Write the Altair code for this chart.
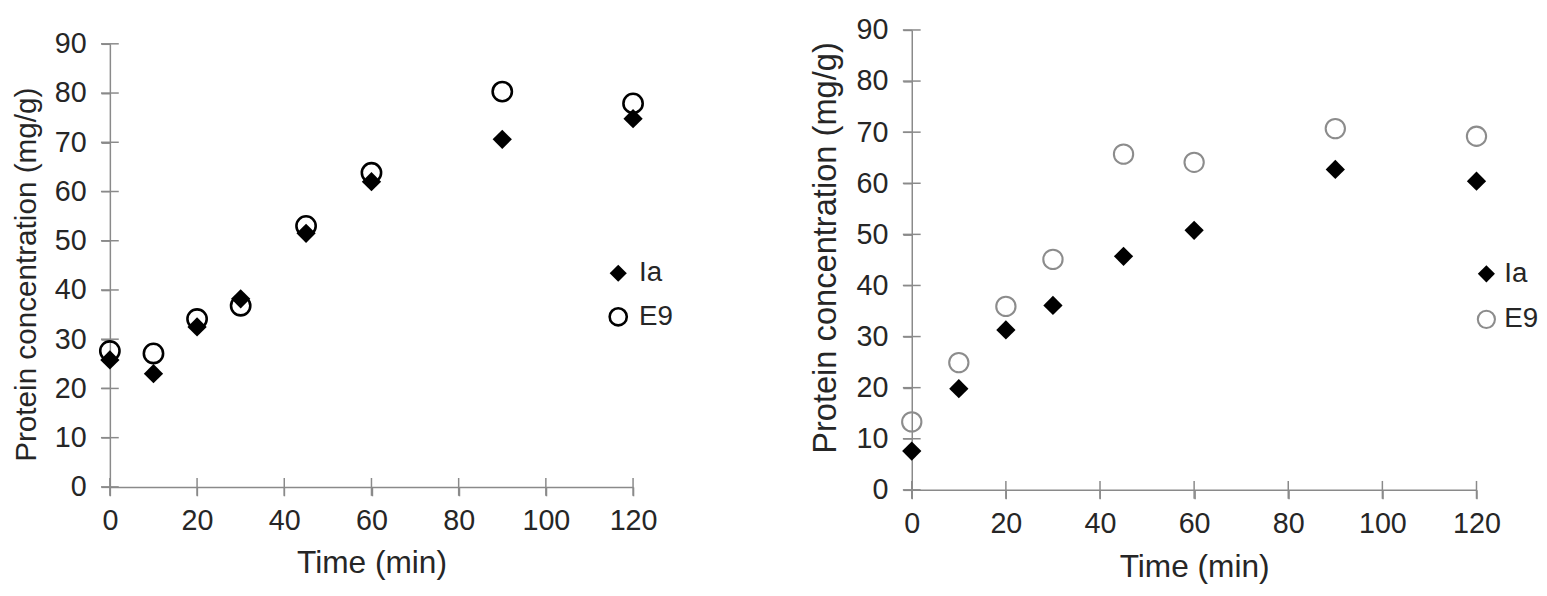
import altair as alt
import pandas as pd

times = [0, 10, 20, 30, 45, 60, 90, 120]
series_names = ["Ia", "E9"]

left_ia = [25.8, 23.0, 32.5, 38.2, 51.5, 62.0, 70.6, 74.8]
left_e9 = [27.6, 27.1, 34.1, 36.8, 53.0, 63.8, 80.3, 77.9]
right_ia = [7.6, 19.8, 31.3, 36.1, 45.7, 50.8, 62.7, 60.4]
right_e9 = [13.3, 24.9, 35.9, 45.1, 65.7, 64.1, 70.7, 69.2]

x_ticks = [0, 20, 40, 60, 80, 100, 120]
y_ticks = [0, 10, 20, 30, 40, 50, 60, 70, 80, 90]

x_title = "Time (min)"
y_title = "Protein concentration (mg/g)"

FONT = "Liberation Sans"
AXIS_GRAY = "#8a8a8a"
TEXT = "#262626"


def panel(ia, e9, e9_color, e9_width, width, height, top_inset, leg_x, leg_y, row_pad,
          label_off, xt_pad, yt_size, yt_pos):
    df = pd.DataFrame({
        "Time": times + times,
        "Conc": e9 + ia,
        "Series": ["E9"] * len(times) + ["Ia"] * len(times),
    })
    xs = alt.Scale(domain=[0, 120], nice=False, zero=False)
    ys = alt.Scale(domain=[0, 90], nice=False, range=[height, top_inset])
    xax = alt.Axis(values=x_ticks, title=x_title, labelPadding=11, titlePadding=xt_pad,
                   labelFlush=False, titleFontSize=32)
    yax = alt.Axis(values=y_ticks, title=y_title, labelPadding=15, titlePadding=13.4,
                   labelFlush=False, titleFontSize=yt_size, titleY=yt_pos)
    leg = alt.Legend(
        title=None, orient="none", legendX=leg_x, legendY=leg_y,
        labelFont=FONT, labelFontSize=28, labelColor=TEXT,
        symbolSize=300, symbolStrokeWidth=e9_width, rowPadding=row_pad,
        labelOffset=label_off, padding=0,
    )
    pts = alt.Chart(df).mark_point(filled=True, size=380, strokeWidth=e9_width, opacity=1).encode(
        x=alt.X("Time:Q", scale=xs, axis=xax, title=x_title),
        y=alt.Y("Conc:Q", scale=ys, axis=yax, title=y_title),
        shape=alt.Shape("Series:N", scale=alt.Scale(domain=series_names, range=["diamond", "circle"]), legend=leg),
        fill=alt.Fill("Series:N", scale=alt.Scale(domain=series_names, range=["black", "transparent"]), legend=leg),
        stroke=alt.Stroke("Series:N", scale=alt.Scale(domain=series_names, range=["transparent", e9_color]), legend=leg),
    )
    ytk = alt.Chart(pd.DataFrame({"Conc": y_ticks})).mark_rule(color=AXIS_GRAY, strokeWidth=1.5).encode(
        y=alt.Y("Conc:Q", scale=ys, axis=yax, title=y_title), x=alt.value(-9), x2=alt.value(9))
    xtk = alt.Chart(pd.DataFrame({"Time": x_ticks})).mark_rule(color=AXIS_GRAY, strokeWidth=1.5).encode(
        x=alt.X("Time:Q", scale=xs, axis=xax, title=x_title), y=alt.value(height - 9), y2=alt.value(height + 9))
    return alt.layer(pts, xtk, ytk).properties(width=width, height=height)


left = panel(left_ia, left_e9, "black", 2.6, 529, 462, 14, 500, 232, 16, 7, 13, 30, 247)
right = panel(right_ia, right_e9, "#8c8c8c", 2.1, 571, 465, 0, 567, 232.6, 18, 4, 14, 33, 220)

chart = alt.hconcat(left, right, spacing=137.8).resolve_scale(
    shape="independent", fill="independent", stroke="independent"
).resolve_legend(
    shape="independent", fill="independent", stroke="independent"
).properties(
    padding={"left": 3, "top": 5, "right": 0, "bottom": 0}
).configure_view(stroke=None).configure_axis(
    grid=False, domainColor=AXIS_GRAY, domainWidth=1.5, tickColor=AXIS_GRAY,
    tickWidth=1.5, tickSize=9, labelFont=FONT, labelFontSize=29, labelColor=TEXT,
    titleFont=FONT, titleColor=TEXT, titleFontWeight="normal",
)

chart.save("out.html", embed_options={"renderer": "svg", "actions": False})
